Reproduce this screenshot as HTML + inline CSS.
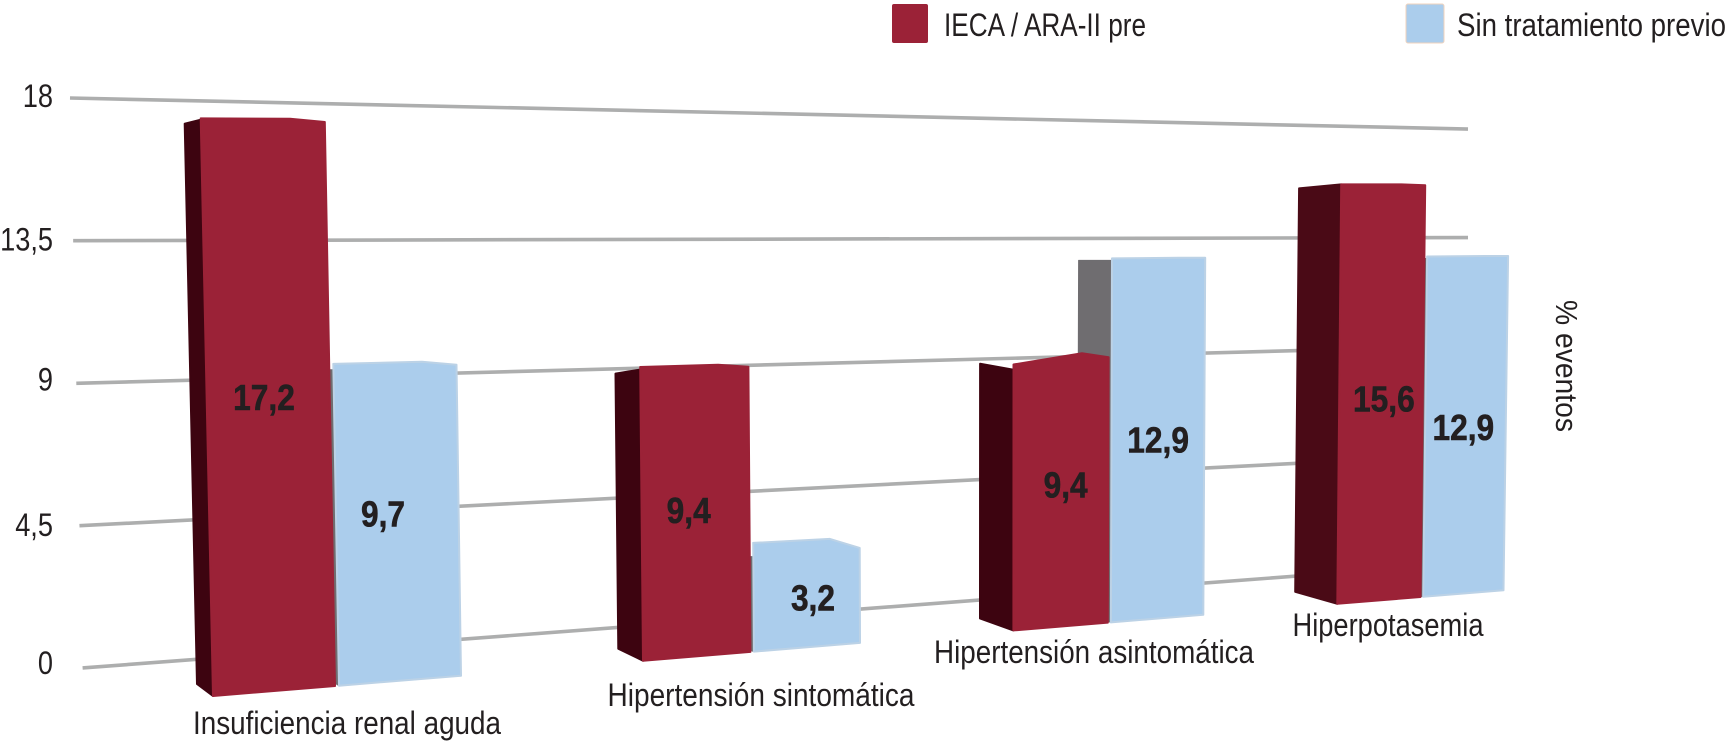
<!DOCTYPE html>
<html lang="es">
<head>
<meta charset="utf-8">
<title>Eventos por tratamiento previo</title>
<style>
  html, body { margin: 0; padding: 0; background: #fff; }
  svg { display: block; }
  text { font-family: "Liberation Sans", sans-serif; fill: #231f20; }
</style>
</head>
<body>
<svg id="chart" xmlns="http://www.w3.org/2000/svg" width="1728" height="741" viewBox="0 0 1728 741">
  <g>
    <g>
      <rect x="892" y="4" width="36" height="39" rx="2" fill="#9b2237"/>
      <text x="944" y="36" font-size="32" textLength="202" lengthAdjust="spacingAndGlyphs">IECA / ARA-II pre</text>
    </g>
    <g>
      <rect x="1406" y="4" width="38" height="39" rx="2" fill="#abcdec" stroke="#f0d3bd" stroke-width="1"/>
      <text x="1457" y="36" font-size="32" textLength="269" lengthAdjust="spacingAndGlyphs">Sin tratamiento previo</text>
    </g>
  </g>
  <text transform="translate(1556,300) rotate(90)" font-size="31" textLength="132" lengthAdjust="spacingAndGlyphs">% eventos</text>
  <g id="grid"></g>
  <g id="ticks"></g>
  <g id="bars"></g>
  <g id="values"></g>
  <g id="cats"></g>
</svg>
<script>
// ---- data ----
const categories = ["Insuficiencia renal aguda", "Hipertensión sintomática", "Hipertensión asintomática", "Hiperpotasemia"];
const seriesIeca = [17.2, 9.4, 9.4, 15.6];
const seriesSin = [9.7, 3.2, 12.9, 12.9];
const yTicks = [0, 4.5, 9, 13.5, 18];
const yTickLabels = ["0", "4,5", "9", "13,5", "18"];

// ---- label nudges and decoration (not data) ----
const tickLabelNudge = [-4, 1, -2, 1, 0];
const iecaLabelNudge = [[-10, -9], [-8, -2], [5, -8], [5, 6]];
const sinLabelNudge = [[-17, -10], [6, -2], [1, 1], [0, 2]];
const iecaCapLift = [1, 2, 4, 0];
const sinCapLift = [3, 9, 0, 0];
const iecaLeftDrop = [0, 0, 10, 0];
const sinLeftDrop = [0, 0, 0, 0];
const categoryLabelCenter = [347, 761, 1094, 1388];
const categoryLabelBaseline = [734, 706, 663, 636];
const categoryLabelWidth = [308, 307, 320, 191];

// ---- perspective axis functions ----
const NS = "http://www.w3.org/2000/svg";
const YMAX = 18;
function backZero(x) { return 668 - 0.0757 * (x - 82); }
function backTop(x) { return 98 + 0.0222 * (x - 70); }
function gridY(v, x) { return backZero(x) + (backTop(x) - backZero(x)) * v / YMAX; }
function frontBase(x) { return 696 - 0.082 * (x - 213); }
function unitPx(x) { return 1.083 * (backZero(x) - backTop(x)) / YMAX; }
function barTop(v, x) { return frontBase(x) - v * unitPx(x); }
function lean(x) { return 0.019 * (1000 - x) / 700; }
function topX(x, v) { return x - lean(x) * v * unitPx(x); }
function groupScale(i) { return Math.pow(0.88, i); }
function groupLeft(i) { return 213 + 428 * (1 - Math.pow(0.87, i)) / 0.13 + (i === 1 ? 2 : 0); }
function sideWidth(i) { return 16 + 8.7 * i; }
function iecaRight(i) { return groupLeft(i) + 122 * groupScale(i); }
function sinLeft(i) { return groupLeft(i) + 126 * groupScale(i); }
function sinRight(i) { return sinLeft(i) + 122 * Math.pow(0.87, i); }

function make(tag, attrs, parent) {
  const el = document.createElementNS(NS, tag);
  for (const k in attrs) el.setAttribute(k, attrs[k]);
  parent.appendChild(el);
  return el;
}
function pts(list) { return list.map(p => p[0].toFixed(1) + "," + p[1].toFixed(1)).join(" "); }
function condense(el, factor) {
  const w = el.getComputedTextLength();
  el.setAttribute("textLength", (w * factor).toFixed(1));
  el.setAttribute("lengthAdjust", "spacingAndGlyphs");
}
function slug(i) { return ["renal", "sintomatica", "asintomatica", "hiperpotasemia"][i]; }

const gridG = document.getElementById("grid");
const ticksG = document.getElementById("ticks");
const barsG = document.getElementById("bars");
const valuesG = document.getElementById("values");
const catsG = document.getElementById("cats");

// gridlines and tick labels
yTicks.forEach((t, k) => {
  const x1 = 70 + (18 - t) * 0.7;
  const x2 = 1468;
  const line = make("line", { x1: x1, y1: gridY(t, x1), x2: x2, y2: gridY(t, x2), stroke: "#adaeae", "stroke-width": 3.6 }, gridG);
  
  
  const label = make("text", { x: 53, y: gridY(t, 70) + 9 + tickLabelNudge[k], "text-anchor": "end", "font-size": 32 }, ticksG);
  label.textContent = yTickLabels[k];
  
  
  condense(label, 0.85);
});

function fmt(v) { return String(v).replace(".", ","); }

function frontFace(left, right, v, lift, drop, fill, edge) {
  const tl = [topX(left, v), barTop(v, left)];
  const tr = [topX(right, v), barTop(v, right)];
  const peak = [tl[0] + (tr[0] - tl[0]) * 0.72, Math.min(tl[1], tr[1]) - lift];
  const leftTop = [tl[0], tl[1] - lift * 1.3 + drop];
  return { points: pts([[left, frontBase(left)], leftTop, peak, tr, [right, frontBase(right)]]), fill: fill, stroke: edge, "stroke-width": 2, "stroke-linejoin": "round" };
}

categories.forEach((cat, i) => {
  const g = make("g", {}, barsG);
  
  

  const rL = groupLeft(i), rR = iecaRight(i), bL = sinLeft(i), bR = sinRight(i), sw = sideWidth(i);
  const vR = seriesIeca[i], vB = seriesSin[i];
  const sideColor = i === 3 ? "#4a0a16" : "#3d0410";

  // grey side of the blue bar
  const grey = make("polygon", {
    points: pts([[bL - sw, frontBase(bL) - 10], [topX(bL, vB) - sw, barTop(vB, bL) + 2], [topX(bL, vB), barTop(vB, bL) + 2], [bL, frontBase(bL)]]),
    fill: "#6f6d70", stroke: "#6f6d70", "stroke-width": 1, "stroke-linejoin": "round"
  }, g);
  
  

  // dark side of the red bar
  const side = make("polygon", {
    points: pts([[rL - sw, frontBase(rL) - 12], [topX(rL, vR) - sw, barTop(vR, rL) + 4], [topX(rL, vR), barTop(vR, rL) + iecaLeftDrop[i]], [rL, frontBase(rL)]]),
    fill: sideColor, stroke: sideColor, "stroke-width": 2, "stroke-linejoin": "round"
  }, g);
  
  

  const red = make("polygon", frontFace(rL, rR, vR, iecaCapLift[i], iecaLeftDrop[i], "#9b2237", "#9b2237"), g);
  
  

  const blue = make("polygon", frontFace(bL, bR, vB, sinCapLift[i], sinLeftDrop[i], "#abcdec", "#bcd2e6"), g);
  
  

  // printed values
  const rMid = (barTop(vR, (rL + rR) / 2) + frontBase((rL + rR) / 2)) / 2;
  const bMid = (barTop(vB, (bL + bR) / 2) + frontBase((bL + bR) / 2)) / 2;

  const tR = make("text", { x: (rL + rR) / 2 + iecaLabelNudge[i][0], y: rMid + iecaLabelNudge[i][1] + 13, "text-anchor": "middle", "font-size": 36, "font-weight": "bold", stroke: "#231f20", "stroke-width": 0.6 }, valuesG);
  tR.textContent = fmt(vR);
  
  
  condense(tR, 0.88);

  const tB = make("text", { x: (bL + bR) / 2 + sinLabelNudge[i][0], y: bMid + sinLabelNudge[i][1] + 13, "text-anchor": "middle", "font-size": 36, "font-weight": "bold", stroke: "#231f20", "stroke-width": 0.6 }, valuesG);
  tB.textContent = fmt(vB);
  
  
  condense(tB, 0.88);

  // category label
  const c = make("text", { x: categoryLabelCenter[i], y: categoryLabelBaseline[i], "text-anchor": "middle", "font-size": 32, textLength: categoryLabelWidth[i], lengthAdjust: "spacingAndGlyphs" }, catsG);
  c.textContent = cat;
  
  
});
</script>
</body>
</html>
